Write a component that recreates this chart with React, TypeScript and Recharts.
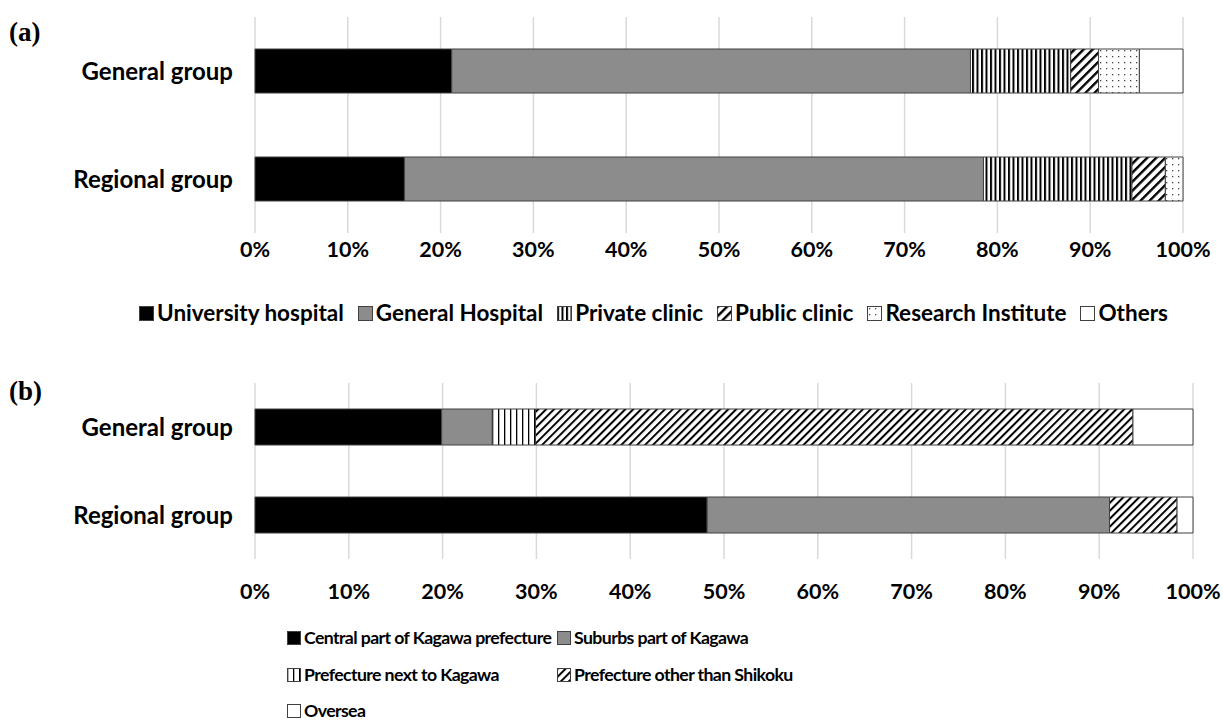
import React from 'react';
import { BarChart, Bar, XAxis, YAxis, CartesianGrid } from 'recharts';

const groups = ['General group', 'Regional group'];
const percentTicks = [0, 10, 20, 30, 40, 50, 60, 70, 80, 90, 100];

// (a) place of work
const facilityKeys = ['University hospital', 'General Hospital', 'Private clinic', 'Public clinic', 'Research Institute', 'Others'];
const facilityGeneral = [21.2, 55.9, 10.8, 3.0, 4.4, 4.7];
const facilityRegional = [16.1, 62.4, 16.0, 3.6, 1.9, 0];

// (b) area of work
const regionKeys = ['Central part of Kagawa prefecture', 'Suburbs part of Kagawa', 'Prefecture next to Kagawa', 'Prefecture other than Shikoku', 'Oversea'];
const regionGeneral = [19.9, 5.4, 4.6, 63.7, 6.4];
const regionRegional = [48.2, 42.9, 0, 7.2, 1.7];

const facilityFills = ['#000000', '#8c8c8c', 'url(#vstripeA)', 'url(#hatchA)', 'url(#dotsA)', '#ffffff'];
const regionFills = ['#000000', '#8c8c8c', 'url(#vstripeB)', 'url(#hatchB)', '#ffffff'];

const FONT = 'Lato, "Open Sans", sans-serif';
const EDGE = '#404040';

const buildRows = (keys: string[], series: number[][]) =>
  groups.map((g, i) => {
    const row: Record<string, any> = { group: g };
    keys.forEach((k, j) => { row[k] = series[i][j]; });
    return row;
  });

const facilityData = buildRows(facilityKeys, [facilityGeneral, facilityRegional]);
const regionData = buildRows(regionKeys, [regionGeneral, regionRegional]);

const Patterns = () => (
  <svg width={0} height={0} style={{ position: 'absolute' }}>
    <defs>
      <pattern id="vstripeA" patternUnits="userSpaceOnUse" width={4.5} height={10}>
        <rect width={4.5} height={10} fill="#fff" />
        <rect x={0} width={2} height={10} fill="#000" />
      </pattern>
      <pattern id="vstripeB" patternUnits="userSpaceOnUse" width={6} height={10}>
        <rect width={6} height={10} fill="#fff" />
        <rect x={0} width={1.3} height={10} fill="#000" />
      </pattern>
      <pattern id="hatchA" patternUnits="userSpaceOnUse" width={6.4} height={10} patternTransform="rotate(45)">
        <rect width={6.4} height={10} fill="#fff" />
        <rect x={0} width={2.4} height={10} fill="#000" />
      </pattern>
      <pattern id="hatchB" patternUnits="userSpaceOnUse" width={5.6} height={10} patternTransform="rotate(45)">
        <rect width={5.6} height={10} fill="#fff" />
        <rect x={0} width={2} height={10} fill="#000" />
      </pattern>
      <pattern id="dotsA" patternUnits="userSpaceOnUse" width={6} height={6}>
        <rect width={6} height={6} fill="#fff" />
        <rect x={2} y={2} width={1.3} height={1.3} fill="#444" />
      </pattern>
    </defs>
  </svg>
);

const Swatch = ({ fill, size }: { fill: string; size: number }) => (
  <svg width={size + 1} height={size + 1} style={{ display: 'block', flex: 'none' }}>
    <rect x={0.5} y={0.5} width={size} height={size} fill={fill} stroke={EDGE} strokeWidth={1} />
  </svg>
);

const LegendItem = ({ label, fill, fontSize, size, spacing = 0, lh = 22 }: { label: string; fill: string; fontSize: number; size: number; spacing?: number; lh?: number }) => (
  <div style={{ display: 'flex', alignItems: 'center', gap: 3, height: lh }}>
    <Swatch fill={fill} size={size} />
    <span style={{ fontFamily: FONT, fontWeight: 700, fontSize, letterSpacing: spacing, lineHeight: `${lh}px`, color: '#000', whiteSpace: 'nowrap' }}>{label}</span>
  </div>
);

const PanelLabel = ({ text, top }: { text: string; top: number }) => (
  <div style={{ position: 'absolute', left: 9, top, fontFamily: '"Liberation Serif", serif', fontWeight: 700, fontSize: 27, lineHeight: '27px' }}>
    {text}
  </div>
);

const tickStyle = { fill: '#000', fontSize: 21.5, fontWeight: 700, fontFamily: FONT };
const catStyle = { fill: '#000', fontSize: 24, fontWeight: 700, fontFamily: FONT };

export default function App() {
  return (
    <div style={{ position: 'absolute', left: 0, top: 0, width: 1223, height: 720, background: '#fff', overflow: 'hidden' }}>
      <Patterns />
      <PanelLabel text="(a)" top={19} />
      <div style={{ position: 'absolute', left: 0, top: 0 }}>
        <BarChart width={1223} height={300} data={facilityData} layout="vertical"
          margin={{ top: 17, right: 40, left: 0, bottom: 27 }} barSize={44}>
          <CartesianGrid horizontal={false} stroke="#d9d9d9" strokeWidth={1.5} />
          <XAxis type="number" domain={[0, 100]} ticks={percentTicks} tickFormatter={(v) => `${v}%`}
            axisLine={false} tickLine={false} tick={tickStyle} tickMargin={3} height={40} interval={0} />
          <YAxis type="category" dataKey="group" width={255} axisLine={false} tickLine={false}
            tick={catStyle} tickMargin={16} />
          {facilityKeys.map((k, i) => (
            <Bar key={k} dataKey={k} stackId="a" fill={facilityFills[i]} stroke={EDGE} strokeWidth={1} isAnimationActive={false} />
          ))}
        </BarChart>
      </div>
      <div style={{ position: 'absolute', left: 84, width: 1139, top: 302, display: 'flex', justifyContent: 'center', gap: 14 }}>
        {facilityKeys.map((k, i) => <LegendItem key={k} label={k} fill={facilityFills[i]} fontSize={22.5} size={14} />)}
      </div>

      <PanelLabel text="(b)" top={378} />
      <div style={{ position: 'absolute', left: 0, top: 360 }}>
        <BarChart width={1223} height={260} data={regionData} layout="vertical"
          margin={{ top: 23, right: 30, left: 0, bottom: 21 }} barSize={36}>
          <CartesianGrid horizontal={false} stroke="#d9d9d9" strokeWidth={1.5} />
          <XAxis type="number" domain={[0, 100]} ticks={percentTicks} tickFormatter={(v) => `${v}%`}
            axisLine={false} tickLine={false} tick={tickStyle} tickMargin={19} height={40} interval={0} />
          <YAxis type="category" dataKey="group" width={255} axisLine={false} tickLine={false}
            tick={catStyle} tickMargin={16} />
          {regionKeys.map((k, i) => (
            <Bar key={k} dataKey={k} stackId="b" fill={regionFills[i]} stroke={EDGE} strokeWidth={1} isAnimationActive={false} />
          ))}
        </BarChart>
      </div>
      <div style={{ position: 'absolute', left: 287, top: 629, display: 'grid', gridTemplateColumns: '270px auto', rowGap: 18.5 }}>
        {regionKeys.map((k, i) => <LegendItem key={k} label={k} fill={regionFills[i]} fontSize={17.7} size={13} spacing={-0.6} lh={18} />)}
      </div>
    </div>
  );
}
